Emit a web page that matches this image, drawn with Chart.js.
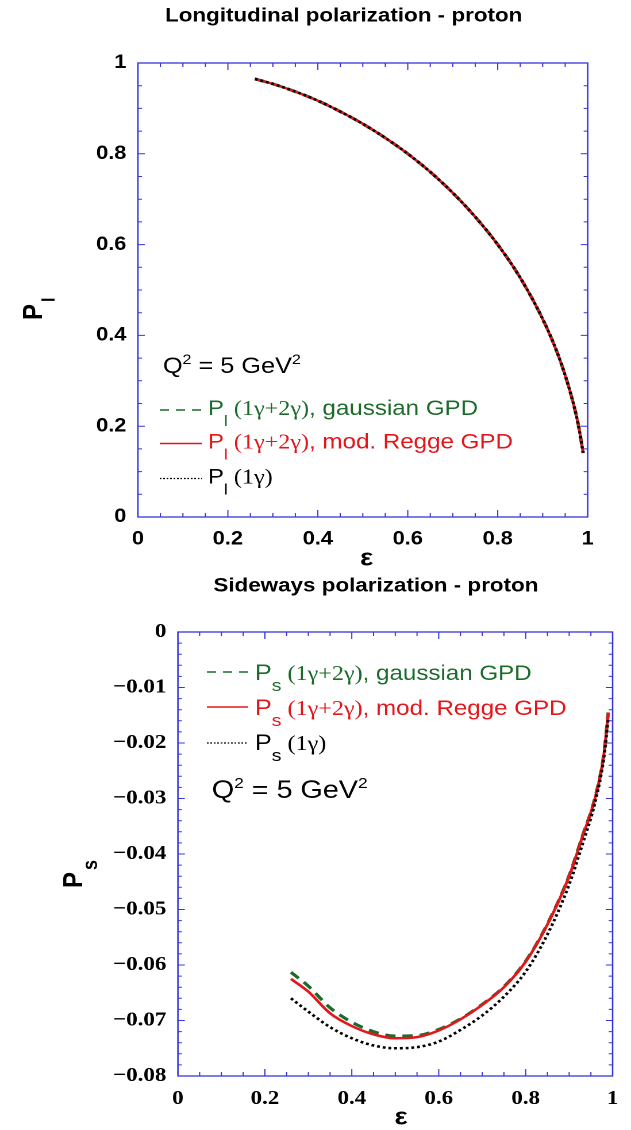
<!DOCTYPE html>
<html>
<head>
<meta charset="utf-8">
<script src="https://cdn.jsdelivr.net/npm/chart.js@4.4.1/dist/chart.umd.min.js"></script>
<style>
  body { margin: 0; background: #fff; }
  canvas { display: block; }
</style>
</head>
<body>
<canvas id="topChart" width="549" height="570" style="width:631px;height:570px"></canvas>
<canvas id="bottomChart" width="549" height="560" style="width:631px;height:560px"></canvas>
<script>
// ---- data ----
const epsL = [0.26, 0.30, 0.35, 0.40, 0.45, 0.50, 0.55, 0.60, 0.65, 0.70, 0.75, 0.80, 0.85, 0.90, 0.93, 0.95, 0.97, 0.98, 0.99];
const plGauss = [0.965, 0.954, 0.937, 0.917, 0.893, 0.866, 0.835, 0.800, 0.760, 0.714, 0.661, 0.600, 0.527, 0.436, 0.368, 0.312, 0.243, 0.199, 0.141];
const plRegge = [0.965, 0.954, 0.937, 0.917, 0.893, 0.866, 0.835, 0.800, 0.760, 0.714, 0.661, 0.600, 0.527, 0.436, 0.368, 0.312, 0.243, 0.199, 0.141];
const pl1g    = [0.965, 0.954, 0.937, 0.917, 0.893, 0.866, 0.835, 0.800, 0.760, 0.714, 0.661, 0.600, 0.527, 0.436, 0.368, 0.312, 0.243, 0.199, 0.141];

const epsS = [0.26, 0.30, 0.35, 0.40, 0.45, 0.50, 0.55, 0.60, 0.65, 0.70, 0.75, 0.80, 0.85, 0.90, 0.93, 0.96, 0.98, 0.99];
const psGauss = [-0.0613, -0.0638, -0.0677, -0.0703, -0.0720, -0.0728, -0.0727, -0.0716, -0.0697, -0.0671, -0.0639, -0.0593, -0.0526, -0.0439, -0.0369, -0.0297, -0.0219, -0.0145];
const psRegge = [-0.0625, -0.0648, -0.0687, -0.0710, -0.0725, -0.0732, -0.0730, -0.0718, -0.0698, -0.0672, -0.0640, -0.0594, -0.0527, -0.0440, -0.0370, -0.0298, -0.0220, -0.0145];
const ps1g    = [-0.0660, -0.0684, -0.0712, -0.0732, -0.0745, -0.0750, -0.0748, -0.0738, -0.0717, -0.0691, -0.0657, -0.0612, -0.0545, -0.0455, -0.0384, -0.0306, -0.0226, -0.0155];

const xTicksL = [0, 1, 0.2];      // min, max, step
const yTicksL = [0, 1, 0.2];
const xTicksS = [0, 1, 0.2];
const yTicksS = [-0.08, 0, 0.01];

// ---- styles ----
const BLUE = "#3636dc";
const GREEN = "#1c6b2b";
const RED = "#e3161b";
const SANS = '"Liberation Sans", Arial, sans-serif';
const SERIF = '"Liberation Serif", "Times New Roman", serif';

const toXY = (xs, ys) => xs.map((x, i) => ({ x, y: ys[i] }));

function richText(ctx, x, y, parts) {
  let cx = x;
  ctx.textAlign = "left";
  ctx.textBaseline = "alphabetic";
  parts.forEach(([t, font, color, dy]) => {
    ctx.font = font;
    ctx.fillStyle = color;
    ctx.fillText(t, cx, y + (dy || 0));
    cx += ctx.measureText(t).width;
  });
}

// frame on all four sides with inward ticks
function drawFrame(chart, xMinor, xEvery, yMinor, yEvery) {
  const { ctx, chartArea: a, scales: { x, y } } = chart;
  ctx.save();
  ctx.strokeStyle = BLUE;
  ctx.lineWidth = 1.3;
  ctx.strokeRect(a.left, a.top, a.right - a.left, a.bottom - a.top);
  ctx.lineWidth = 1;
  ctx.beginPath();
  let n = Math.round((x.max - x.min) / xMinor);
  for (let i = 1; i < n; i++) {
    const px = x.getPixelForValue(x.min + i * xMinor);
    const len = i % xEvery === 0 ? 7 : 4;
    ctx.moveTo(px, a.bottom); ctx.lineTo(px, a.bottom - len);
    ctx.moveTo(px, a.top); ctx.lineTo(px, a.top + len);
  }
  n = Math.round((y.max - y.min) / yMinor);
  for (let i = 1; i < n; i++) {
    const py = y.getPixelForValue(y.min + i * yMinor);
    const len = i % yEvery === 0 ? 6 : 3.5;
    ctx.moveTo(a.left, py); ctx.lineTo(a.left + len, py);
    ctx.moveTo(a.right, py); ctx.lineTo(a.right - len, py);
  }
  ctx.stroke();
  ctx.restore();
}

function legendRows(ctx, rows, x0, x1, xt) {
  rows.forEach(r => {
    ctx.save();
    ctx.strokeStyle = r.color;
    ctx.lineWidth = r.lw;
    ctx.setLineDash(r.dash);
    ctx.beginPath();
    ctx.moveTo(x0, r.ly); ctx.lineTo(x1, r.ly);
    ctx.stroke();
    ctx.restore();
    richText(ctx, xt, r.base, r.parts);
  });
}

function yTitle(ctx, xBase, yStart, sub, subFont, subDy) {
  ctx.save();
  ctx.translate(xBase, yStart);
  ctx.rotate(-Math.PI / 2);
  ctx.fillStyle = "#000";
  ctx.textAlign = "left";
  ctx.textBaseline = "alphabetic";
  ctx.font = "bold 24px " + SANS;
  ctx.fillText("P", 0, 0);
  const w = ctx.measureText("P").width;
  ctx.font = subFont;
  ctx.fillText(sub, w + 2, subDy);
  ctx.restore();
}

function centered(ctx, text, x, y, font) {
  ctx.font = font;
  ctx.fillStyle = "#000";
  ctx.textAlign = "center";
  ctx.textBaseline = "middle";
  ctx.fillText(text, x, y);
}

function lineSets(xs, g, r, b) {
  return [
    { label: "gaussian", data: toXY(xs, g), borderColor: GREEN, borderWidth: 3, borderDash: [9, 6], order: 2 },
    { label: "Regge", data: toXY(xs, r), borderColor: RED, borderWidth: 2.5, order: 1 },
    { label: "1g", data: toXY(xs, b), borderColor: "#000", borderWidth: 2.6, borderDash: [2.5, 2.5], order: 0 }
  ];
}

function baseOptions(xt, yt, padTop, padRight, yWidth, xHeight, tickFont, yFmt) {
  return {
    responsive: false,
    animation: false,
    devicePixelRatio: 2,
    layout: { padding: { top: padTop, right: padRight, left: 0, bottom: 0 } },
    plugins: { legend: { display: false }, tooltip: { enabled: false }, title: { display: false } },
    elements: { point: { radius: 0 }, line: { cubicInterpolationMode: "monotone", fill: false } },
    scales: {
      x: {
        type: "linear", min: xt[0], max: xt[1],
        afterFit: s => { s.height = xHeight; },
        grid: { display: false, drawTicks: false },
        border: { display: false },
        ticks: {
          stepSize: xt[2], padding: 11, color: "#000", font: tickFont,
          maxRotation: 0, autoSkip: false,
          callback: v => String(+v.toFixed(2))
        }
      },
      y: {
        type: "linear", min: yt[0], max: yt[1],
        afterFit: s => { s.width = yWidth; },
        grid: { display: false, drawTicks: false },
        border: { display: false },
        ticks: { stepSize: yt[2], padding: 10, color: "#000", font: tickFont, autoSkip: false, callback: yFmt }
      }
    }
  };
}

// ===== Longitudinal =====
const topDecor = {
  id: "topDecor",
  afterDraw(chart) {
    const ctx = chart.ctx;
    drawFrame(chart, 0.05, 4, 0.05, 4);
    centered(ctx, "Longitudinal polarization - proton", 299, 16, "bold 19.5px " + SANS);
    centered(ctx, "\u03b5", 319, 559, "bold 24px " + SANS);
    yTitle(ctx, 36.5, 320, "l", "bold 16px " + SANS, 11);
    richText(ctx, 141.7, 373, [
      ["Q", "22px " + SANS, "#000"], ["2", "14px " + SANS, "#000", -9],
      [" = 5 GeV", "22px " + SANS, "#000"], ["2", "14px " + SANS, "#000", -9]
    ]);
    const sub = (c) => [["P", "21px " + SANS, c], ["l", "15px " + SANS, c, 11]];
    legendRows(ctx, [
      { color: GREEN, lw: 1.5, dash: [8, 6], ly: 410, base: 415,
        parts: [...sub(GREEN), [" (1\u03b3+2\u03b3)", "21px " + SERIF, GREEN], [", gaussian GPD", "21px " + SANS, GREEN]] },
      { color: RED, lw: 1.5, dash: [], ly: 443.5, base: 448.5,
        parts: [...sub(RED), [" (1\u03b3+2\u03b3)", "21px " + SERIF, RED], [", mod. Regge GPD", "21px " + SANS, RED]] },
      { color: "#000", lw: 1.2, dash: [1.5, 1.5], ly: 478.5, base: 483.5,
        parts: [...sub("#000"), [" (1\u03b3)", "21px " + SERIF, "#000"]] }
    ], 139, 175.7, 180.9);
  }
};

new Chart(document.getElementById("topChart"), {
  type: "line",
  data: { datasets: lineSets(epsL, plGauss, plRegge, pl1g) },
  options: baseOptions(xTicksL, yTicksL, 63, 37.7, 120, 53,
    { family: SANS, size: 19, weight: "bold" }, v => String(+v.toFixed(2))),
  plugins: [topDecor]
});

// ===== Sideways =====
const bottomDecor = {
  id: "bottomDecor",
  afterDraw(chart) {
    const ctx = chart.ctx;
    drawFrame(chart, 0.05, 4, 0.002, 5);
    centered(ctx, "Sideways polarization - proton", 327, 16, "bold 19.5px " + SANS);
    centered(ctx, "\u03b5", 349, 548, "bold 24px " + SANS);
    yTitle(ctx, 71.3, 318, "s", "bold 18px " + SANS, 13);
    richText(ctx, 184.3, 228, [
      ["Q", "25px " + SANS, "#000"], ["2", "15px " + SANS, "#000", -10],
      [" = 5 GeV", "25px " + SANS, "#000"], ["2", "15px " + SANS, "#000", -10]
    ]);
    const sub = (c) => [["P", "22px " + SANS, c], ["s", "17px " + SANS, c, 11]];
    legendRows(ctx, [
      { color: GREEN, lw: 1.5, dash: [8, 6], ly: 102, base: 110,
        parts: [...sub(GREEN), [" (1\u03b3+2\u03b3)", "21px " + SERIF, GREEN], [", gaussian GPD", "21px " + SANS, GREEN]] },
      { color: RED, lw: 1.5, dash: [], ly: 137, base: 145,
        parts: [...sub(RED), [" (1\u03b3+2\u03b3)", "21px " + SERIF, RED], [", mod. Regge GPD", "21px " + SANS, RED]] },
      { color: "#000", lw: 1.2, dash: [1.5, 1.5], ly: 173, base: 180,
        parts: [...sub("#000"), [" (1\u03b3)", "21px " + SERIF, "#000"]] }
    ], 180, 215.7, 221.7);
  }
};

new Chart(document.getElementById("bottomChart"), {
  type: "line",
  data: { datasets: lineSets(epsS, psGauss, psRegge, ps1g) },
  options: baseOptions(xTicksS, yTicksS, 62, 12.5, 154.8, 54,
    { family: SERIF, size: 20, weight: "bold" },
    v => (Math.abs(v) < 1e-9 ? "0" : "\u2212" + Math.abs(v).toFixed(2))),
  plugins: [bottomDecor]
});
</script>
</body>
</html>
